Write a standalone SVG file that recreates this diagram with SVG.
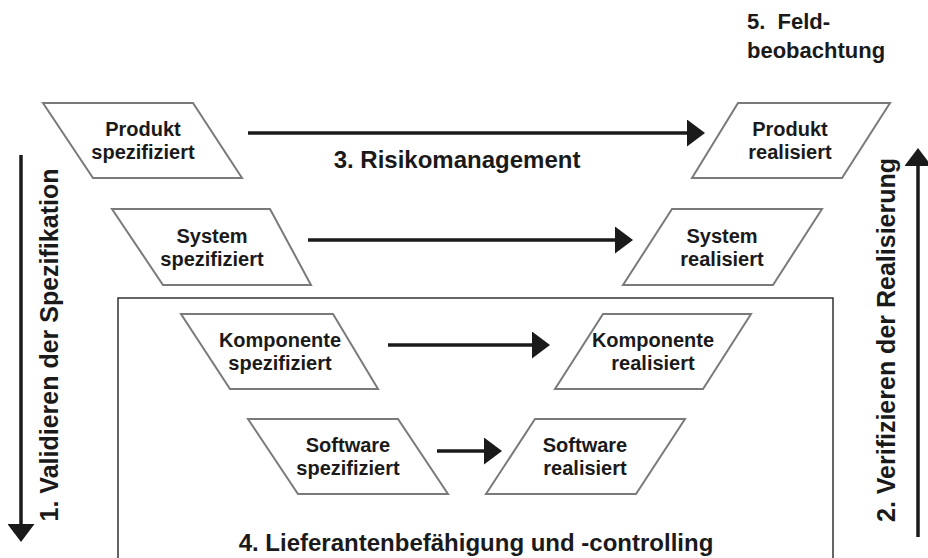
<svg xmlns="http://www.w3.org/2000/svg" width="928" height="558" viewBox="0 0 928 558">
<style>
text{font-family:"Liberation Sans",Arial,sans-serif;font-weight:bold;fill:#1a1a1a}
.n{font-size:20px;text-anchor:middle}
.big{font-size:24px}
.rot{font-size:25px;text-anchor:middle}
.pg{fill:#fff;stroke:#7a7a7a;stroke-width:2}
.ln{stroke:#1a1a1a;stroke-width:3.5;fill:none}
</style>
<defs>
<marker id="ah" markerUnits="userSpaceOnUse" markerWidth="18" markerHeight="27" viewBox="0 0 18 27" refX="0" refY="13.5" orient="auto">
<path d="M0,0 L18,13.5 L0,27 Z" fill="#1a1a1a"/>
</marker>
</defs>
<rect width="928" height="558" fill="#fff"/>
<g id="supplier-box">
<path d="M118,560 V298 H833 V560" fill="none" stroke="#333" stroke-width="1.5"/>
<text class="big" x="476" y="551" text-anchor="middle">4. Lieferantenbefähigung und -controlling</text>
</g>
<g id="connectors">
<line class="ln" x1="248" y1="133" x2="687" y2="133" marker-end="url(#ah)"/>
<line class="ln" x1="308" y1="240" x2="615" y2="240" marker-end="url(#ah)"/>
<line class="ln" x1="388" y1="345" x2="532" y2="345" marker-end="url(#ah)"/>
<line class="ln" x1="437" y1="451" x2="484" y2="451" marker-end="url(#ah)"/>
<line class="ln" x1="21" y1="155" x2="21" y2="524" marker-end="url(#ah)"/>
<line class="ln" x1="918" y1="537" x2="918" y2="166" marker-end="url(#ah)"/>
</g>
<g id="produkt-spezifiziert">
<polygon class="pg" points="43,103 193,103 242,178 93,178"/>
<text class="n" x="143" y="136">Produkt</text>
<text class="n" x="143" y="159">spezifiziert</text>
</g>
<g id="system-spezifiziert">
<polygon class="pg" points="112,209 270,209 311,285 163,285"/>
<text class="n" x="212" y="243">System</text>
<text class="n" x="212" y="266">spezifiziert</text>
</g>
<g id="komponente-spezifiziert">
<polygon class="pg" points="181,314 333,314 378,389 230,389"/>
<text class="n" x="280" y="347">Komponente</text>
<text class="n" x="280" y="370">spezifiziert</text>
</g>
<g id="software-spezifiziert">
<polygon class="pg" points="248,419 398,419 448,494 298,494"/>
<text class="n" x="348" y="452">Software</text>
<text class="n" x="348" y="475">spezifiziert</text>
</g>
<g id="produkt-realisiert">
<polygon class="pg" points="738,103 890,103 842,178 692,178"/>
<text class="n" x="790" y="136">Produkt</text>
<text class="n" x="790" y="159">realisiert</text>
</g>
<g id="system-realisiert">
<polygon class="pg" points="672,209 822,209 773,285 623,285"/>
<text class="n" x="722" y="243">System</text>
<text class="n" x="722" y="266">realisiert</text>
</g>
<g id="komponente-realisiert">
<polygon class="pg" points="603,314 751,314 703,389 555,389"/>
<text class="n" x="653" y="347">Komponente</text>
<text class="n" x="653" y="370">realisiert</text>
</g>
<g id="software-realisiert">
<polygon class="pg" points="535,419 685,419 636,494 486,494"/>
<text class="n" x="585" y="452">Software</text>
<text class="n" x="585" y="475">realisiert</text>
</g>
<g id="labels">
<text class="big" x="457" y="168" text-anchor="middle">3. Risikomanagement</text>
<text x="747" y="29" style="font-size:22px" xml:space="preserve">5.  Feld-</text>
<text x="747" y="58" style="font-size:22px">beobachtung</text>
<text class="rot" transform="translate(58,345) rotate(-90)">1. Validieren der Spezifikation</text>
<text class="rot" transform="translate(895,340) rotate(-90)">2. Verifizieren der Realisierung</text>
</g>
</svg>
